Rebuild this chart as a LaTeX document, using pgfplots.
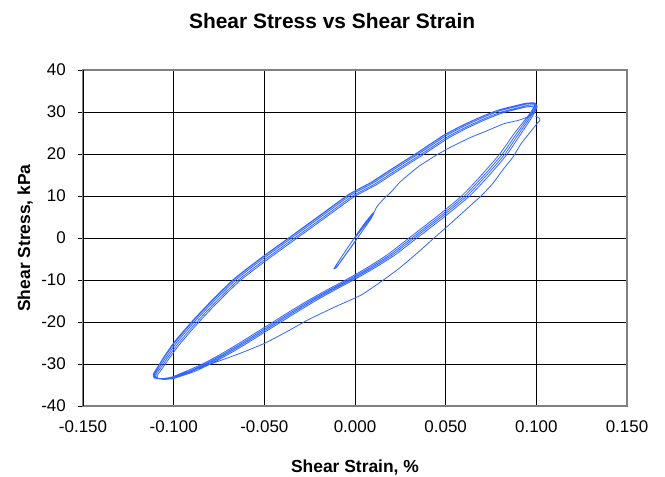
\documentclass[border=0pt]{standalone}
\usepackage{pgfplots}
\pgfplotsset{compat=1.18}
\usepackage{fontspec}
\setmainfont{Liberation Sans}
\definecolor{loopblue}{RGB}{51,102,255}
\begin{document}
\begin{tikzpicture}
\begin{axis}[
  at={(0,0)}, anchor=south west,
  scale only axis, width=544bp, height=336bp,
  xmin=-0.15, xmax=0.15, ymin=-40, ymax=40,
  xtick={-0.15,-0.1,-0.05,0,0.05,0.1,0.15},
  xticklabels={-0.150,-0.100,-0.050,0.000,0.050,0.100,0.150},
  ytick={-40,-30,-20,-10,0,10,20,30,40},
  yticklabels={-40,-30,-20,-10,0,10,20,30,40},
  xtick pos=bottom, ytick pos=left,
  tick align=outside, major tick length=5bp,
  ytick style={black, line width=0.8bp},
  xtick style={draw=none},
  xmajorgrids, ymajorgrids,
  major grid style={black, line width=0.8bp},
  axis line style={gray, line width=1.2bp},
  ticklabel style={font=\fontsize{17}{20}\selectfont},
  xticklabel style={anchor=north, inner sep=0pt, yshift=-9bp},
  yticklabel style={anchor=east, inner sep=0pt, xshift=-12bp},
  title={Shear Stress vs Shear Strain},
  title style={at={(axis description cs:0.458,1.106)}, anchor=base, font=\bfseries\fontsize{21}{24}\selectfont},
  xlabel={Shear Strain, \%},
  xlabel style={at={(axis description cs:0.5,-0.199)}, anchor=base, font=\bfseries\fontsize{17.5}{20}\selectfont},
  ylabel={Shear Stress, kPa},
  ylabel style={at={(axis description cs:-0.0974,0.5)}, anchor=base, rotate=0, font=\bfseries\fontsize{17.5}{20}\selectfont},
  clip=false,
]
\addplot[color=loopblue, line width=0.8bp, smooth, tension=0.3] coordinates {
(0,0) (0.005,2.8) (0.0105,6.0) (0.0098,5.9) (0.006,3.9) (0.001,0.9) (-0.004,-2.3) (-0.009,-5.5) (-0.0116,-7.3) (-0.0105,-7.1) (-0.007,-5.0) (-0.002,-2.0) (0.003,1.0) (0.008,4.1) (0.0102,5.7) (0.0093,5.5) (0.005,3.2) (0,0.2) (-0.005,-2.9) (-0.0095,-5.9) (-0.0113,-7.2) (-0.0100,-6.9) (-0.006,-4.5) (-0.001,-1.5) (0.004,1.6) (0.0088,4.6)
(0.0120,7.4) (0.0160,9.4) (0.0200,11.0) (0.0250,13.4) (0.0350,17.0) (0.0440,19.5) (0.0500,21.0) (0.0530,21.7) (0.0640,24.0) (0.0710,25.2) (0.0820,27.2) (0.0900,28.0) (0.0950,28.8) (0.0980,29.6) (0.0995,30.8)
(0.0995,31.2) (0.0960,31.3) (0.0915,30.9) (0.0815,29.8) (0.0715,28.1) (0.0615,26.1) (0.0515,23.8) (0.0375,19.8) (0.0215,15.4) (0.0115,12.6) (-0.0005,9.8) (-0.0165,4.8) (-0.0325,-0.2) (-0.0485,-5.2) (-0.0635,-10.2) (-0.0755,-15.2) (-0.0865,-20.2) (-0.0965,-25.2) (-0.1025,-28.7) (-0.1065,-31.2) (-0.1090,-32.7) (-0.1088,-33.4) (-0.1050,-33.7)
(-0.0990,-33.3) (-0.0880,-31.7) (-0.0788,-29.8) (-0.0698,-27.7) (-0.0608,-25.4) (-0.0508,-22.7) (-0.0408,-20.0) (-0.0308,-17.3) (-0.0208,-14.7) (-0.0108,-12.3) (-0.0008,-10.0) (0.0102,-7.3) (0.0222,-4.0) (0.0342,0.0) (0.0492,5.0) (0.0632,10.0) (0.0742,15.0) (0.0840,20.0) (0.0918,25.0) (0.0965,28.0) (0.0992,30.0) (0.1005,31.4)
(0.0990,31.7) (0.0957,31.6) (0.0907,31.1) (0.0807,30.0) (0.0707,28.3) (0.0607,26.3) (0.0507,24.0) (0.0367,20.0) (0.0207,15.6) (0.0107,12.8) (-0.0013,10.0) (-0.0173,5.0) (-0.0333,0.0) (-0.0493,-5.0) (-0.0643,-10.0) (-0.0763,-15.0) (-0.0873,-20.0) (-0.0973,-25.0) (-0.1033,-28.5) (-0.1073,-31.0) (-0.1098,-32.5) (-0.1095,-33.3) (-0.1055,-33.6)
(-0.0997,-33.2) (-0.0893,-31.6) (-0.0803,-29.8) (-0.0713,-27.7) (-0.0623,-25.4) (-0.0523,-22.7) (-0.0423,-20.0) (-0.0323,-17.3) (-0.0223,-14.7) (-0.0123,-12.3) (-0.0023,-10.0) (0.0087,-7.3) (0.0207,-4.0) (0.0327,0.0) (0.0477,5.0) (0.0617,10.0) (0.0727,15.0) (0.0827,20.0) (0.0906,25.0) (0.0955,28.0) (0.0984,30.0) (0.1002,31.6)
(0.0988,32.0) (0.0950,31.9) (0.0900,31.4) (0.0800,30.3) (0.0700,28.6) (0.0600,26.6) (0.0500,24.3) (0.0360,20.3) (0.0200,15.9) (0.0100,13.1) (-0.0020,10.3) (-0.0180,5.3) (-0.0340,0.3) (-0.0500,-4.7) (-0.0650,-9.7) (-0.0770,-14.7) (-0.0880,-19.7) (-0.0980,-24.7) (-0.1040,-28.3) (-0.1080,-30.8) (-0.1105,-32.4) (-0.1102,-33.2) (-0.1062,-33.5)
(-0.1003,-33.2) (-0.0907,-31.6) (-0.0817,-29.8) (-0.0727,-27.7) (-0.0637,-25.4) (-0.0537,-22.7) (-0.0437,-20.0) (-0.0337,-17.3) (-0.0237,-14.7) (-0.0137,-12.3) (-0.0037,-10.0) (0.0073,-7.3) (0.0193,-4.0) (0.0313,0.0) (0.0463,5.0) (0.0603,10.0) (0.0713,15.0) (0.0813,20.0) (0.0894,25.0) (0.0945,28.0) (0.0976,30.0) (0.0998,31.9)
(0.0985,32.2) (0.0943,32.1) (0.0893,31.6) (0.0793,30.5) (0.0693,28.8) (0.0593,26.8) (0.0493,24.5) (0.0353,20.5) (0.0193,16.1) (0.0093,13.3) (-0.0027,10.5) (-0.0187,5.5) (-0.0347,0.5) (-0.0507,-4.5) (-0.0657,-9.5) (-0.0777,-14.5) (-0.0887,-19.5) (-0.0987,-24.5) (-0.1047,-28.1) (-0.1087,-30.7) (-0.1110,-32.3) (-0.1108,-33.2) (-0.1068,-33.5)
(-0.1010,-33.1) (-0.0920,-31.5) (-0.0832,-29.8) (-0.0742,-27.7) (-0.0652,-25.4) (-0.0552,-22.7) (-0.0452,-20.0) (-0.0352,-17.3) (-0.0252,-14.7) (-0.0152,-12.3) (-0.0052,-10.0) (0.0058,-7.3) (0.0178,-4.0) (0.0298,0.0) (0.0448,5.0) (0.0588,10.0) (0.0698,15.0) (0.0798,20.0) (0.0880,25.0) (0.0935,28.0) (0.0970,30.0) (0.0996,32.0)
(0.0983,32.1) (0.0936,32.0) (0.0886,31.5) (0.0786,30.4) (0.0686,28.7) (0.0586,26.7) (0.0486,24.4) (0.0346,20.4) (0.0186,16.0) (0.0086,13.2) (-0.0034,10.4) (-0.0194,5.4) (-0.0354,0.4) (-0.0514,-4.6) (-0.0664,-9.6) (-0.0784,-14.6) (-0.0894,-19.6) (-0.0994,-24.6) (-0.1052,-28.2) (-0.1090,-30.8) (-0.1112,-32.4) (-0.1108,-33.3) (-0.1066,-33.6)
(-0.1000,-33.5) (-0.0959,-32.4) (-0.0860,-31.0) (-0.0757,-29.4) (-0.0630,-27.4) (-0.0500,-25.1) (-0.0380,-22.4) (-0.0260,-19.5) (-0.0110,-16.4) (0.0033,-13.6) (0.0150,-10.2) (0.0250,-7.0) (0.0340,-3.7) (0.0436,0.0) (0.0500,2.4) (0.0600,6.3) (0.0695,10.0) (0.0760,13.0) (0.0820,16.5) (0.0870,19.2) (0.0915,22.4) (0.0955,24.6) (0.0985,26.2) (0.1007,27.4) (0.1020,28.0) (0.1015,28.6) (0.0995,29.0)
};
\draw[black, line width=0.8bp] (rel axis cs:0,0) -- (rel axis cs:0,1);
\end{axis}
\pgfresetboundingbox
\useasboundingbox (-83bp,-71bp) rectangle (582bp,406bp);
\end{tikzpicture}
\end{document}
